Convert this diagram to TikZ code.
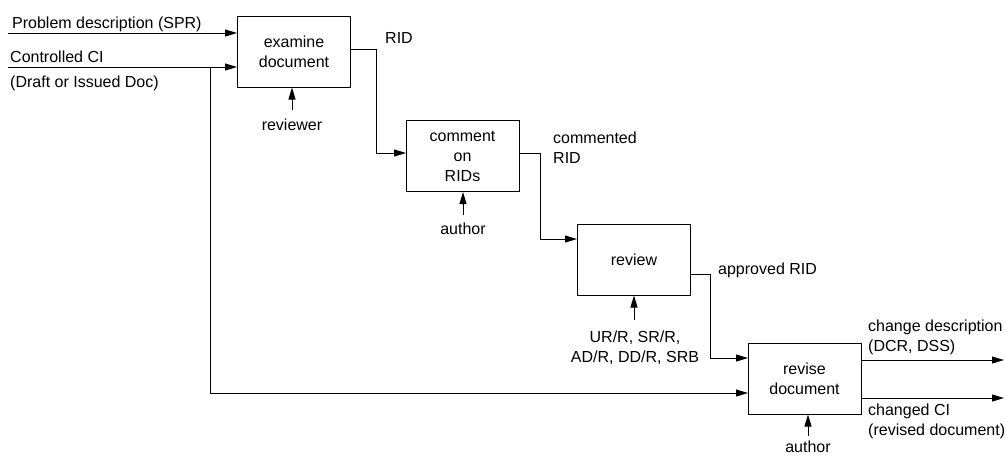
\documentclass[tikz,border=0pt]{standalone}
\usepackage{fontspec}
\setmainfont{Liberation Sans}
\usetikzlibrary{arrows.meta}
\begin{document}
\begin{tikzpicture}[x=1pt,y=-1pt,
  every node/.style={font=\fontsize{16}{20}\selectfont, inner sep=0pt},
  proc/.style={draw, line width=1pt, align=center, minimum width=113pt, minimum height=71pt},
  lbl/.style={anchor=west, align=left},
  clbl/.style={align=center},
  arr/.style={line width=1pt, -{Triangle[length=12pt,width=7pt]}},
  ln/.style={line width=1pt}]
\useasboundingbox (0,0) rectangle (1005,456);
% boxes
\node[proc] (b1) at (294,51.5) {examine\\document};
\node[proc] (b2) at (462.5,156) {comment\\on\\RIDs};
\node[proc] (b3) at (634,259.5) {review};
\node[proc] (b4) at (804.5,378.5) {revise\\document};
% ports
\coordinate (in1) at (8,33);
\coordinate (in2) at (8,67);
\coordinate (br) at (210,67);
\coordinate (o1) at (350,49);
\coordinate (i2) at (406,153);
\coordinate (o2) at (519,153);
\coordinate (i3) at (577,239);
\coordinate (o3) at (691,274);
\coordinate (i4a) at (748,358);
\coordinate (i4b) at (748,393);
\coordinate (o4a) at (861,360);
\coordinate (o4b) at (861,398);
\coordinate (e4a) at (1004,360);
\coordinate (e4b) at (1004,398);
\coordinate (s1) at (292,110);
\coordinate (s2) at (463,215);
\coordinate (s3) at (634,320);
\coordinate (s4) at (808,436);
% labels
\node[lbl] (l1) at (12,24) {Problem description (SPR)};
\node[lbl] (l2) at (10,57) {Controlled CI};
\node[lbl] (l3) at (10,83) {(Draft or Issued Doc)};
\node[clbl] (rev) at (292,125) {reviewer};
\node[lbl] (rid) at (385,38) {RID};
\node[clbl] (au1) at (463,229) {author};
\node[lbl] (crid) at (553,148) {commented\\RID};
\node[lbl] (arid) at (718,270) {approved RID};
\node[clbl] (auth) at (635,348) {UR/R, SR/R,\\AD/R, DD/R, SRB};
\node[lbl] (cd) at (868,337) {change description\\(DCR, DSS)};
\node[lbl] (cc) at (868,421.5) {changed CI\\(revised document)};
\node[clbl] (au2) at (808,447) {author};
% connectors
\draw[arr] (in1) -- (in1 -| b1.west);
\draw[arr] (in2) -- (in2 -| b1.west);
\draw[arr] (br) |- (i4b);
\draw[arr] (o1) -- ++(26,0) |- (i2);
\draw[arr] (o2) -- ++(21,0) |- (i3);
\draw[arr] (o3) -- ++(19,0) |- (i4a);
\draw[arr] (o4a) -- (e4a);
\draw[arr] (o4b) -- (e4b);
\draw[arr] (s1) -- (s1 |- b1.south);
\draw[arr] (s2) -- (s2 |- b2.south);
\draw[arr] (s3) -- (s3 |- b3.south);
\draw[arr] (s4) -- (s4 |- b4.south);
\end{tikzpicture}
\end{document}
